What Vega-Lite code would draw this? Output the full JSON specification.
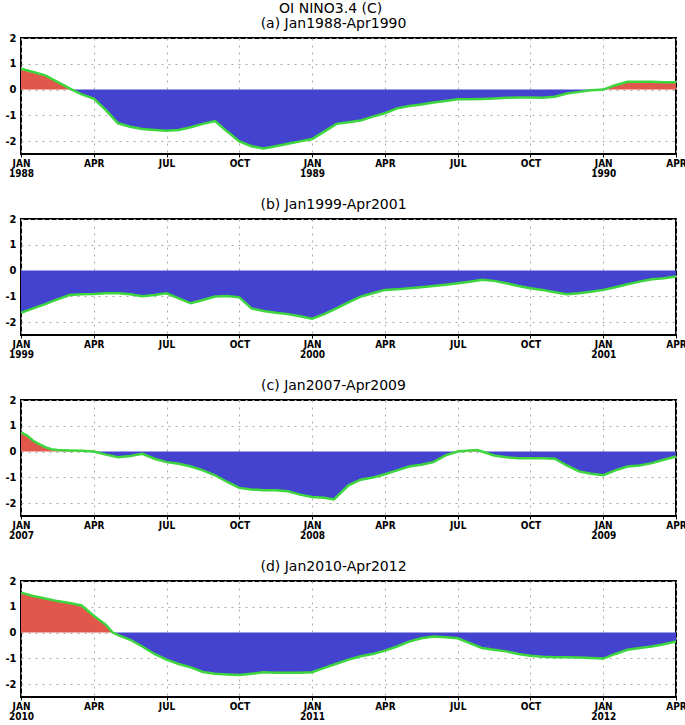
{
  "$schema": "https://vega.github.io/schema/vega-lite/v6.json",
  "padding": {"top": 2, "left": 4, "right": 0, "bottom": 0},
  "background": "white",
  "title": {"text": "OI NINO3.4 (C)", "fontSize": 14, "fontWeight": "normal", "font": "DejaVu Sans", "anchor": "middle", "dx": -15, "offset": 0, "color": "#000"},
  "spacing": 18,
  "config": {
    "view": {"stroke": "#000", "strokeWidth": 2},
    "title": {"fontSize": 14, "fontWeight": "normal", "font": "DejaVu Sans", "color": "#000", "offset": 1, "dx": -15},
    "axis": {"grid": true, "gridColor": "#aaaaaa", "gridDash": [2, 5], "gridWidth": 1, "domain": false, "labelFont": "DejaVu Sans Condensed", "labelFontSize": 10, "labelFontWeight": "bold", "labelColor": "#000", "tickColor": "#000"}
  },
  "datasets": {
    "a": [
      {"m": 0, "v": 0.81, "s": "pos"}, {"m": 0.5, "v": 0.68, "s": "pos"}, {"m": 1, "v": 0.55, "s": "pos"}, {"m": 1.5, "v": 0.3, "s": "pos"}, {"m": 2.1, "v": 0, "s": "pos"},
      {"m": 2.1, "v": 0, "s": "neg"}, {"m": 2.5, "v": -0.19, "s": "neg"}, {"m": 3, "v": -0.35, "s": "neg"}, {"m": 3.5, "v": -0.8, "s": "neg"}, {"m": 4, "v": -1.31, "s": "neg"}, {"m": 4.5, "v": -1.44, "s": "neg"}, {"m": 5, "v": -1.53, "s": "neg"}, {"m": 5.5, "v": -1.57, "s": "neg"}, {"m": 6, "v": -1.6, "s": "neg"}, {"m": 6.5, "v": -1.57, "s": "neg"}, {"m": 7, "v": -1.46, "s": "neg"}, {"m": 7.5, "v": -1.33, "s": "neg"}, {"m": 8, "v": -1.22, "s": "neg"}, {"m": 8.5, "v": -1.63, "s": "neg"}, {"m": 9, "v": -2.01, "s": "neg"}, {"m": 9.5, "v": -2.2, "s": "neg"}, {"m": 10, "v": -2.29, "s": "neg"}, {"m": 10.5, "v": -2.2, "s": "neg"}, {"m": 11, "v": -2.1, "s": "neg"}, {"m": 11.5, "v": -2.01, "s": "neg"}, {"m": 12, "v": -1.92, "s": "neg"}, {"m": 12.5, "v": -1.63, "s": "neg"}, {"m": 13, "v": -1.33, "s": "neg"}, {"m": 13.5, "v": -1.27, "s": "neg"}, {"m": 14, "v": -1.2, "s": "neg"}, {"m": 14.5, "v": -1.05, "s": "neg"}, {"m": 15, "v": -0.92, "s": "neg"}, {"m": 15.5, "v": -0.73, "s": "neg"}, {"m": 16, "v": -0.64, "s": "neg"}, {"m": 16.5, "v": -0.58, "s": "neg"}, {"m": 17, "v": -0.5, "s": "neg"}, {"m": 17.5, "v": -0.44, "s": "neg"}, {"m": 18, "v": -0.38, "s": "neg"}, {"m": 18.5, "v": -0.38, "s": "neg"}, {"m": 19, "v": -0.37, "s": "neg"}, {"m": 19.5, "v": -0.35, "s": "neg"}, {"m": 20, "v": -0.32, "s": "neg"}, {"m": 20.5, "v": -0.31, "s": "neg"}, {"m": 21, "v": -0.31, "s": "neg"}, {"m": 21.5, "v": -0.32, "s": "neg"}, {"m": 22, "v": -0.28, "s": "neg"}, {"m": 22.5, "v": -0.15, "s": "neg"}, {"m": 23, "v": -0.09, "s": "neg"}, {"m": 23.5, "v": -0.03, "s": "neg"}, {"m": 24, "v": 0, "s": "neg"},
      {"m": 24, "v": 0, "s": "pos"}, {"m": 24.5, "v": 0.17, "s": "pos"}, {"m": 25, "v": 0.3, "s": "pos"}, {"m": 25.5, "v": 0.3, "s": "pos"}, {"m": 26, "v": 0.3, "s": "pos"}, {"m": 26.5, "v": 0.28, "s": "pos"}, {"m": 27, "v": 0.28, "s": "pos"}
    ],
    "b": [
      {"m": 0, "v": -1.64, "s": "neg"}, {"m": 0.5, "v": -1.47, "s": "neg"}, {"m": 1, "v": -1.3, "s": "neg"}, {"m": 1.5, "v": -1.12, "s": "neg"}, {"m": 2, "v": -0.95, "s": "neg"}, {"m": 2.5, "v": -0.92, "s": "neg"}, {"m": 3, "v": -0.91, "s": "neg"}, {"m": 3.5, "v": -0.88, "s": "neg"}, {"m": 4, "v": -0.88, "s": "neg"}, {"m": 4.5, "v": -0.92, "s": "neg"}, {"m": 5, "v": -1.0, "s": "neg"}, {"m": 5.5, "v": -0.95, "s": "neg"}, {"m": 6, "v": -0.88, "s": "neg"}, {"m": 6.5, "v": -1.08, "s": "neg"}, {"m": 7, "v": -1.27, "s": "neg"}, {"m": 7.5, "v": -1.14, "s": "neg"}, {"m": 8, "v": -1.01, "s": "neg"}, {"m": 8.5, "v": -0.99, "s": "neg"}, {"m": 9, "v": -1.04, "s": "neg"}, {"m": 9.5, "v": -1.47, "s": "neg"}, {"m": 10, "v": -1.57, "s": "neg"}, {"m": 10.5, "v": -1.64, "s": "neg"}, {"m": 11, "v": -1.69, "s": "neg"}, {"m": 11.5, "v": -1.77, "s": "neg"}, {"m": 12, "v": -1.87, "s": "neg"}, {"m": 12.5, "v": -1.69, "s": "neg"}, {"m": 13, "v": -1.47, "s": "neg"}, {"m": 13.5, "v": -1.23, "s": "neg"}, {"m": 14, "v": -1.01, "s": "neg"}, {"m": 14.5, "v": -0.88, "s": "neg"}, {"m": 15, "v": -0.75, "s": "neg"}, {"m": 15.5, "v": -0.73, "s": "neg"}, {"m": 16, "v": -0.69, "s": "neg"}, {"m": 16.5, "v": -0.65, "s": "neg"}, {"m": 17, "v": -0.6, "s": "neg"}, {"m": 17.5, "v": -0.55, "s": "neg"}, {"m": 18, "v": -0.49, "s": "neg"}, {"m": 18.5, "v": -0.43, "s": "neg"}, {"m": 19, "v": -0.36, "s": "neg"}, {"m": 19.5, "v": -0.4, "s": "neg"}, {"m": 20, "v": -0.49, "s": "neg"}, {"m": 20.5, "v": -0.6, "s": "neg"}, {"m": 21, "v": -0.69, "s": "neg"}, {"m": 21.5, "v": -0.75, "s": "neg"}, {"m": 22, "v": -0.84, "s": "neg"}, {"m": 22.5, "v": -0.92, "s": "neg"}, {"m": 23, "v": -0.88, "s": "neg"}, {"m": 23.5, "v": -0.82, "s": "neg"}, {"m": 24, "v": -0.75, "s": "neg"}, {"m": 24.5, "v": -0.65, "s": "neg"}, {"m": 25, "v": -0.53, "s": "neg"}, {"m": 25.5, "v": -0.43, "s": "neg"}, {"m": 26, "v": -0.34, "s": "neg"}, {"m": 26.5, "v": -0.3, "s": "neg"}, {"m": 27, "v": -0.23, "s": "neg"}
    ],
    "c": [
      {"m": 0, "v": 0.74, "s": "pos"}, {"m": 0.25, "v": 0.62, "s": "pos"}, {"m": 0.5, "v": 0.42, "s": "pos"}, {"m": 0.75, "v": 0.29, "s": "pos"}, {"m": 1, "v": 0.17, "s": "pos"}, {"m": 1.25, "v": 0.09, "s": "pos"}, {"m": 1.5, "v": 0.06, "s": "pos"}, {"m": 2, "v": 0.04, "s": "pos"}, {"m": 2.5, "v": 0.03, "s": "pos"}, {"m": 3, "v": 0, "s": "pos"},
      {"m": 3, "v": 0, "s": "neg"}, {"m": 3.5, "v": -0.12, "s": "neg"}, {"m": 4, "v": -0.22, "s": "neg"}, {"m": 4.5, "v": -0.17, "s": "neg"}, {"m": 5, "v": -0.09, "s": "neg"}, {"m": 5.5, "v": -0.28, "s": "neg"}, {"m": 6, "v": -0.41, "s": "neg"}, {"m": 6.5, "v": -0.47, "s": "neg"}, {"m": 7, "v": -0.58, "s": "neg"}, {"m": 7.5, "v": -0.73, "s": "neg"}, {"m": 8, "v": -0.92, "s": "neg"}, {"m": 8.5, "v": -1.18, "s": "neg"}, {"m": 9, "v": -1.41, "s": "neg"}, {"m": 9.5, "v": -1.47, "s": "neg"}, {"m": 10, "v": -1.5, "s": "neg"}, {"m": 10.5, "v": -1.5, "s": "neg"}, {"m": 11, "v": -1.54, "s": "neg"}, {"m": 11.5, "v": -1.67, "s": "neg"}, {"m": 12, "v": -1.76, "s": "neg"}, {"m": 12.5, "v": -1.79, "s": "neg"}, {"m": 12.9, "v": -1.86, "s": "neg"}, {"m": 13.5, "v": -1.31, "s": "neg"}, {"m": 14, "v": -1.09, "s": "neg"}, {"m": 14.5, "v": -1.01, "s": "neg"}, {"m": 15, "v": -0.88, "s": "neg"}, {"m": 15.5, "v": -0.73, "s": "neg"}, {"m": 16, "v": -0.58, "s": "neg"}, {"m": 16.5, "v": -0.51, "s": "neg"}, {"m": 17, "v": -0.41, "s": "neg"}, {"m": 17.5, "v": -0.15, "s": "neg"}, {"m": 18, "v": 0, "s": "neg"},
      {"m": 18, "v": 0, "s": "pos"}, {"m": 18.5, "v": 0.04, "s": "pos"}, {"m": 18.8, "v": 0.06, "s": "pos"}, {"m": 19, "v": 0, "s": "pos"},
      {"m": 19, "v": 0, "s": "neg"}, {"m": 19.5, "v": -0.15, "s": "neg"}, {"m": 20, "v": -0.22, "s": "neg"}, {"m": 20.5, "v": -0.26, "s": "neg"}, {"m": 21, "v": -0.26, "s": "neg"}, {"m": 21.5, "v": -0.26, "s": "neg"}, {"m": 22, "v": -0.28, "s": "neg"}, {"m": 22.5, "v": -0.54, "s": "neg"}, {"m": 23, "v": -0.77, "s": "neg"}, {"m": 23.5, "v": -0.86, "s": "neg"}, {"m": 24, "v": -0.92, "s": "neg"}, {"m": 24.5, "v": -0.73, "s": "neg"}, {"m": 25, "v": -0.58, "s": "neg"}, {"m": 25.5, "v": -0.54, "s": "neg"}, {"m": 26, "v": -0.45, "s": "neg"}, {"m": 26.5, "v": -0.32, "s": "neg"}, {"m": 27, "v": -0.19, "s": "neg"}
    ],
    "d": [
      {"m": 0, "v": 1.55, "s": "pos"}, {"m": 0.5, "v": 1.42, "s": "pos"}, {"m": 1, "v": 1.32, "s": "pos"}, {"m": 1.5, "v": 1.22, "s": "pos"}, {"m": 2, "v": 1.15, "s": "pos"}, {"m": 2.5, "v": 1.05, "s": "pos"}, {"m": 3, "v": 0.65, "s": "pos"}, {"m": 3.5, "v": 0.3, "s": "pos"}, {"m": 3.78, "v": 0, "s": "pos"},
      {"m": 3.78, "v": 0, "s": "neg"}, {"m": 4, "v": -0.1, "s": "neg"}, {"m": 4.5, "v": -0.28, "s": "neg"}, {"m": 5, "v": -0.54, "s": "neg"}, {"m": 5.5, "v": -0.83, "s": "neg"}, {"m": 6, "v": -1.05, "s": "neg"}, {"m": 6.5, "v": -1.22, "s": "neg"}, {"m": 7, "v": -1.35, "s": "neg"}, {"m": 7.5, "v": -1.53, "s": "neg"}, {"m": 8, "v": -1.6, "s": "neg"}, {"m": 8.5, "v": -1.63, "s": "neg"}, {"m": 9, "v": -1.65, "s": "neg"}, {"m": 9.5, "v": -1.6, "s": "neg"}, {"m": 10, "v": -1.54, "s": "neg"}, {"m": 10.5, "v": -1.56, "s": "neg"}, {"m": 11, "v": -1.56, "s": "neg"}, {"m": 11.5, "v": -1.56, "s": "neg"}, {"m": 12, "v": -1.54, "s": "neg"}, {"m": 12.5, "v": -1.37, "s": "neg"}, {"m": 13, "v": -1.21, "s": "neg"}, {"m": 13.5, "v": -1.05, "s": "neg"}, {"m": 14, "v": -0.92, "s": "neg"}, {"m": 14.5, "v": -0.83, "s": "neg"}, {"m": 15, "v": -0.7, "s": "neg"}, {"m": 15.5, "v": -0.54, "s": "neg"}, {"m": 16, "v": -0.35, "s": "neg"}, {"m": 16.5, "v": -0.22, "s": "neg"}, {"m": 17, "v": -0.15, "s": "neg"}, {"m": 17.5, "v": -0.18, "s": "neg"}, {"m": 18, "v": -0.22, "s": "neg"}, {"m": 18.5, "v": -0.41, "s": "neg"}, {"m": 19, "v": -0.6, "s": "neg"}, {"m": 19.5, "v": -0.67, "s": "neg"}, {"m": 20, "v": -0.73, "s": "neg"}, {"m": 20.5, "v": -0.83, "s": "neg"}, {"m": 21, "v": -0.9, "s": "neg"}, {"m": 21.5, "v": -0.94, "s": "neg"}, {"m": 22, "v": -0.96, "s": "neg"}, {"m": 22.5, "v": -0.96, "s": "neg"}, {"m": 23, "v": -0.97, "s": "neg"}, {"m": 23.5, "v": -0.99, "s": "neg"}, {"m": 24, "v": -1.01, "s": "neg"}, {"m": 24.5, "v": -0.83, "s": "neg"}, {"m": 25, "v": -0.67, "s": "neg"}, {"m": 25.5, "v": -0.6, "s": "neg"}, {"m": 26, "v": -0.54, "s": "neg"}, {"m": 26.5, "v": -0.45, "s": "neg"}, {"m": 27, "v": -0.35, "s": "neg"}
    ]
  },
  "vconcat": [
    {
      "title": "(a) Jan1988-Apr1990",
      "width": 655, "height": 116,
      "data": {"name": "a"},
      "encoding": {
        "x": {"field": "m", "type": "quantitative", "scale": {"domain": [0, 27], "nice": false, "zero": false}, "axis": {"title": null, "values": [0, 3, 6, 9, 12, 15, 18, 21, 24, 27], "tickSize": 3, "labelPadding": 1, "labelFlush": false, "labelOverlap": false, "labelLineHeight": 10, "minExtent": 24, "maxExtent": 24, "labelExpr": "datum.value % 12 == 0 ? ['JAN', '' + (1988 + datum.value / 12)] : ['JAN','APR','JUL','OCT'][(datum.value / 3) % 4]"}},
        "y": {"field": "v", "type": "quantitative", "stack": null, "scale": {"domain": [-2.5, 2], "nice": false, "zero": false}, "axis": {"title": null, "values": [-2, -1, 0, 1, 2], "tickSize": 0, "labelPadding": 5, "labelFontSize": 11, "labelOverlap": false, "minExtent": 15, "maxExtent": 15, "labelExpr": "datum.value < 0 ? '-' + abs(datum.value) : '' + datum.value"}}
      },
      "layer": [
        {"mark": {"type": "area"}, "encoding": {"y2": {"datum": 0}, "color": {"field": "s", "type": "nominal", "scale": {"domain": ["pos", "neg"], "range": ["#e2574c", "#4343cf"]}, "legend": null}}},
        {"mark": {"type": "line", "color": "#3ed63e", "strokeWidth": 2.5}, "encoding": {}},
        {"mark": {"type": "rule", "color": "#000", "strokeDash": [4, 2], "strokeWidth": 1.2}, "encoding": {"y": {"datum": 0}}}
      ]
    },
    {
      "title": "(b) Jan1999-Apr2001",
      "width": 655, "height": 116,
      "data": {"name": "b"},
      "encoding": {
        "x": {"field": "m", "type": "quantitative", "scale": {"domain": [0, 27], "nice": false, "zero": false}, "axis": {"title": null, "values": [0, 3, 6, 9, 12, 15, 18, 21, 24, 27], "tickSize": 3, "labelPadding": 1, "labelFlush": false, "labelOverlap": false, "labelLineHeight": 10, "minExtent": 24, "maxExtent": 24, "labelExpr": "datum.value % 12 == 0 ? ['JAN', '' + (1999 + datum.value / 12)] : ['JAN','APR','JUL','OCT'][(datum.value / 3) % 4]"}},
        "y": {"field": "v", "type": "quantitative", "stack": null, "scale": {"domain": [-2.5, 2], "nice": false, "zero": false}, "axis": {"title": null, "values": [-2, -1, 0, 1, 2], "tickSize": 0, "labelPadding": 5, "labelFontSize": 11, "labelOverlap": false, "minExtent": 15, "maxExtent": 15, "labelExpr": "datum.value < 0 ? '-' + abs(datum.value) : '' + datum.value"}}
      },
      "layer": [
        {"mark": {"type": "area"}, "encoding": {"y2": {"datum": 0}, "color": {"field": "s", "type": "nominal", "scale": {"domain": ["pos", "neg"], "range": ["#e2574c", "#4343cf"]}, "legend": null}}},
        {"mark": {"type": "line", "color": "#3ed63e", "strokeWidth": 2.5}, "encoding": {}},
        {"mark": {"type": "rule", "color": "#000", "strokeDash": [4, 2], "strokeWidth": 1.2}, "encoding": {"y": {"datum": 0}}}
      ]
    },
    {
      "title": "(c) Jan2007-Apr2009",
      "width": 655, "height": 116,
      "data": {"name": "c"},
      "encoding": {
        "x": {"field": "m", "type": "quantitative", "scale": {"domain": [0, 27], "nice": false, "zero": false}, "axis": {"title": null, "values": [0, 3, 6, 9, 12, 15, 18, 21, 24, 27], "tickSize": 3, "labelPadding": 1, "labelFlush": false, "labelOverlap": false, "labelLineHeight": 10, "minExtent": 24, "maxExtent": 24, "labelExpr": "datum.value % 12 == 0 ? ['JAN', '' + (2007 + datum.value / 12)] : ['JAN','APR','JUL','OCT'][(datum.value / 3) % 4]"}},
        "y": {"field": "v", "type": "quantitative", "stack": null, "scale": {"domain": [-2.5, 2], "nice": false, "zero": false}, "axis": {"title": null, "values": [-2, -1, 0, 1, 2], "tickSize": 0, "labelPadding": 5, "labelFontSize": 11, "labelOverlap": false, "minExtent": 15, "maxExtent": 15, "labelExpr": "datum.value < 0 ? '-' + abs(datum.value) : '' + datum.value"}}
      },
      "layer": [
        {"mark": {"type": "area"}, "encoding": {"y2": {"datum": 0}, "color": {"field": "s", "type": "nominal", "scale": {"domain": ["pos", "neg"], "range": ["#e2574c", "#4343cf"]}, "legend": null}}},
        {"mark": {"type": "line", "color": "#3ed63e", "strokeWidth": 2.5}, "encoding": {}},
        {"mark": {"type": "rule", "color": "#000", "strokeDash": [4, 2], "strokeWidth": 1.2}, "encoding": {"y": {"datum": 0}}}
      ]
    },
    {
      "title": "(d) Jan2010-Apr2012",
      "width": 655, "height": 116,
      "data": {"name": "d"},
      "encoding": {
        "x": {"field": "m", "type": "quantitative", "scale": {"domain": [0, 27], "nice": false, "zero": false}, "axis": {"title": null, "values": [0, 3, 6, 9, 12, 15, 18, 21, 24, 27], "tickSize": 3, "labelPadding": 1, "labelFlush": false, "labelOverlap": false, "labelLineHeight": 10, "minExtent": 24, "maxExtent": 24, "labelExpr": "datum.value % 12 == 0 ? ['JAN', '' + (2010 + datum.value / 12)] : ['JAN','APR','JUL','OCT'][(datum.value / 3) % 4]"}},
        "y": {"field": "v", "type": "quantitative", "stack": null, "scale": {"domain": [-2.5, 2], "nice": false, "zero": false}, "axis": {"title": null, "values": [-2, -1, 0, 1, 2], "tickSize": 0, "labelPadding": 5, "labelFontSize": 11, "labelOverlap": false, "minExtent": 15, "maxExtent": 15, "labelExpr": "datum.value < 0 ? '-' + abs(datum.value) : '' + datum.value"}}
      },
      "layer": [
        {"mark": {"type": "area"}, "encoding": {"y2": {"datum": 0}, "color": {"field": "s", "type": "nominal", "scale": {"domain": ["pos", "neg"], "range": ["#e2574c", "#4343cf"]}, "legend": null}}},
        {"mark": {"type": "line", "color": "#3ed63e", "strokeWidth": 2.5}, "encoding": {}},
        {"mark": {"type": "rule", "color": "#000", "strokeDash": [4, 2], "strokeWidth": 1.2}, "encoding": {"y": {"datum": 0}}}
      ]
    }
  ]
}
